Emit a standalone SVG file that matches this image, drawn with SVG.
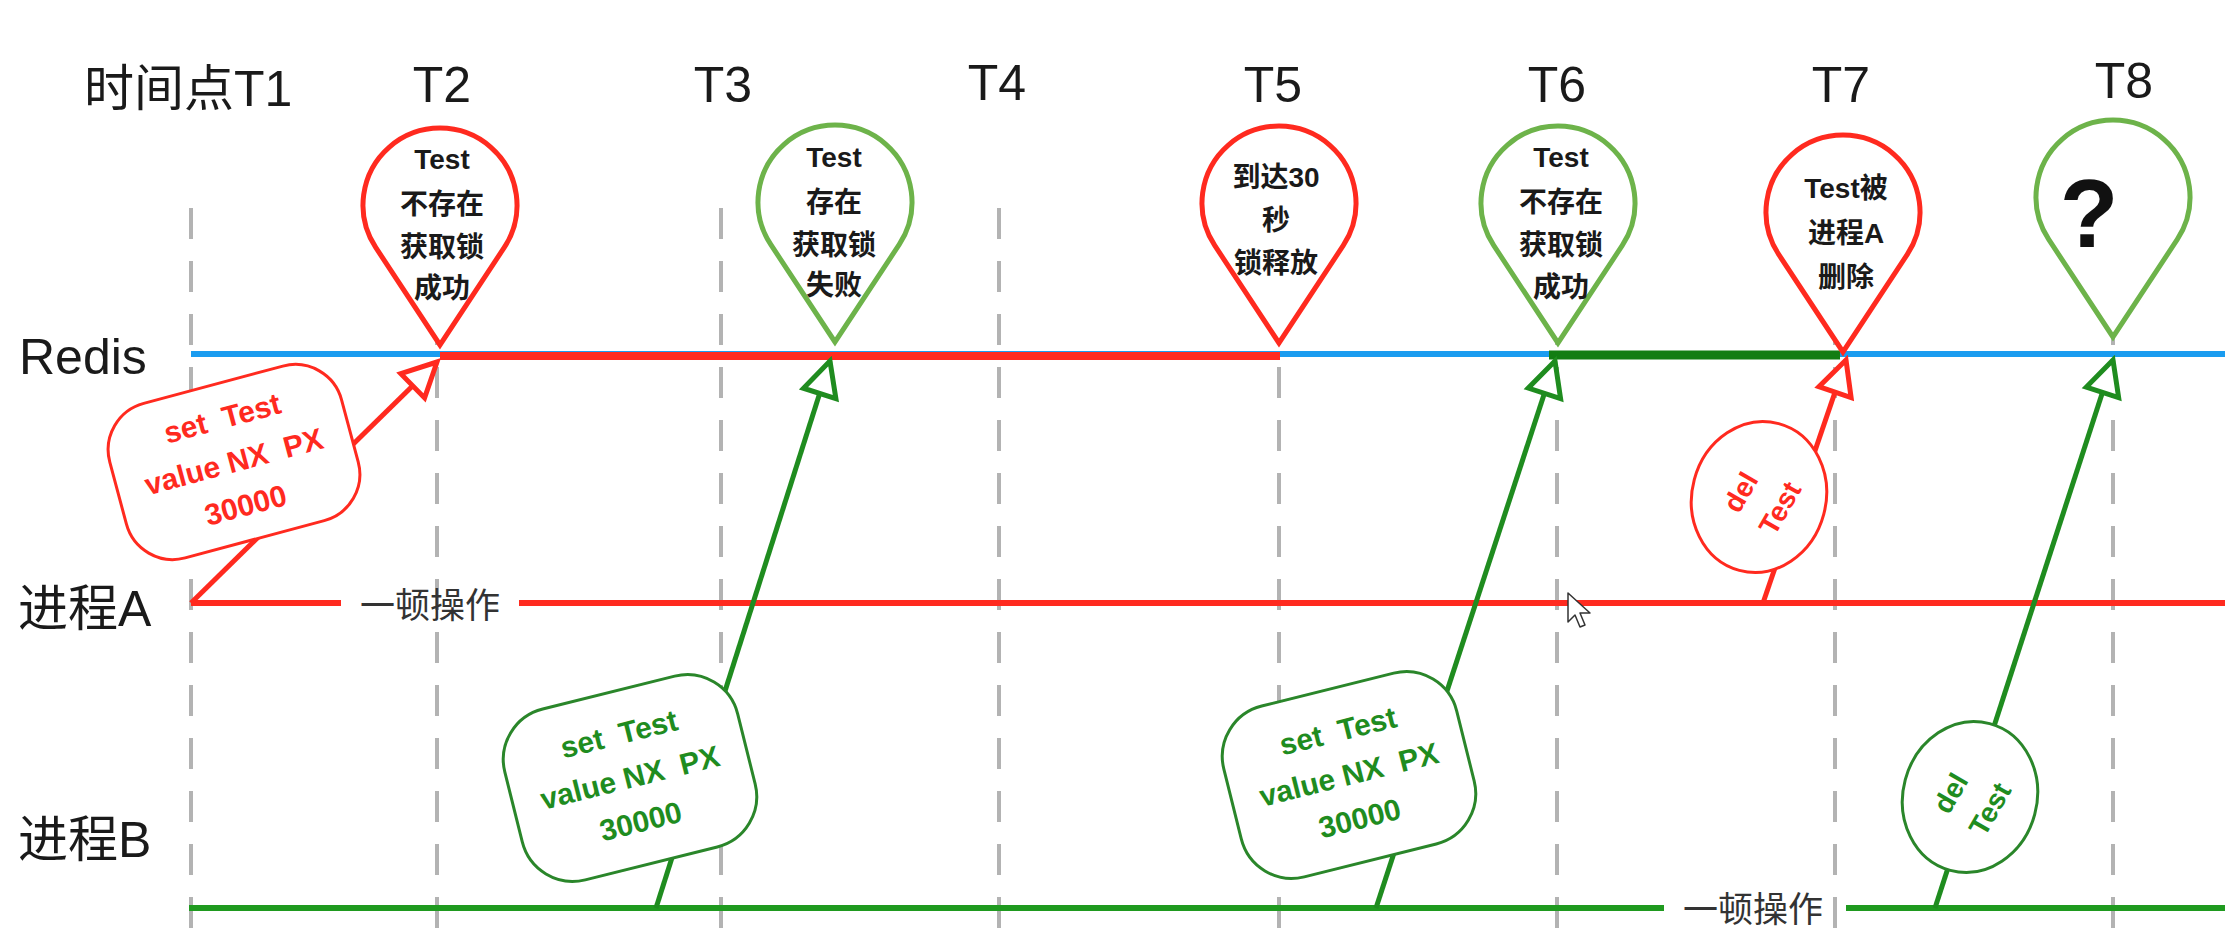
<svg xmlns="http://www.w3.org/2000/svg" width="2225" height="948" viewBox="0 0 2225 948">
<style>
.lbl{font-family:"Liberation Sans","Noto Sans CJK SC",sans-serif;font-size:50px;fill:#1a1a1a}
.tl{font-family:"Liberation Sans","Noto Sans CJK SC",sans-serif;font-size:50px;fill:#1a1a1a;text-anchor:middle}
.pt{font-family:"Liberation Sans","Noto Sans CJK SC",sans-serif;font-size:28px;font-weight:bold;fill:#1a1a1a;text-anchor:middle}
.op{font-family:"Noto Sans CJK SC",sans-serif;font-size:35px;fill:#333;text-anchor:middle}
.bt{font-family:"Liberation Sans","Noto Sans CJK SC",sans-serif;font-size:30px;font-weight:bold;text-anchor:middle}
.dt{font-family:"Liberation Sans",sans-serif;font-size:28px;font-weight:bold;text-anchor:middle}
.dash{stroke:#b3b3b3;stroke-width:4;stroke-dasharray:31 22;fill:none}
.pinR{fill:#fff;stroke:#ff2a1f;stroke-width:5;stroke-linejoin:miter}
.pinG{fill:#fff;stroke:#6db34a;stroke-width:5;stroke-linejoin:miter}
.arR{stroke:#ff2a1f;stroke-width:5;fill:none;marker-end:url(#ahR)}
.arG{stroke:#1f8c1f;stroke-width:5;fill:none;marker-end:url(#ahG)}
.bubR{fill:#fff;stroke:#ff2a1f;stroke-width:3}
.bubG{fill:#fff;stroke:#2a862a;stroke-width:3}
.red{fill:#ff2a1f}
.grn{fill:#1f8c1f}
</style>
<defs>
<path id="pin" d="M0,0 L-64.3,-97.6 A77,77 0 1 1 64.3,-97.6 Z"/>
<marker id="ahR" markerUnits="userSpaceOnUse" viewBox="-45 -25 50 50" markerWidth="50" markerHeight="50" refX="0" refY="0" orient="auto">
<path d="M0,0 L-34,-17 L-34,17 Z" fill="#fff" stroke="#ff2a1f" stroke-width="5"/>
</marker>
<marker id="ahG" markerUnits="userSpaceOnUse" viewBox="-45 -25 50 50" markerWidth="50" markerHeight="50" refX="0" refY="0" orient="auto">
<path d="M0,0 L-34,-17 L-34,17 Z" fill="#fff" stroke="#1f8c1f" stroke-width="5"/>
</marker>
</defs>
<rect width="2225" height="948" fill="#fff"/>

<g id="gridlines">
<line class="dash" x1="191" y1="208" x2="191" y2="932"/>
<line class="dash" x1="437" y1="208" x2="437" y2="932"/>
<line class="dash" x1="721" y1="208" x2="721" y2="932"/>
<line class="dash" x1="999" y1="208" x2="999" y2="932"/>
<line class="dash" x1="1279" y1="208" x2="1279" y2="932"/>
<line class="dash" x1="1557" y1="208" x2="1557" y2="932"/>
<line class="dash" x1="1835" y1="208" x2="1835" y2="932"/>
<line class="dash" x1="2113" y1="208" x2="2113" y2="932"/>
</g>

<g id="time-labels">
<text class="lbl" x="84" y="106">时间点T1</text>
<text class="tl" x="442" y="102">T2</text>
<text class="tl" x="723" y="102">T3</text>
<text class="tl" x="997" y="100">T4</text>
<text class="tl" x="1273" y="102">T5</text>
<text class="tl" x="1557" y="102">T6</text>
<text class="tl" x="1841" y="102">T7</text>
<text class="tl" x="2124" y="98">T8</text>
</g>

<g id="lane-redis">
<text class="lbl" x="19" y="374">Redis</text>
<line x1="191" y1="354" x2="2225" y2="354" stroke="#1a9cf0" stroke-width="6"/>
<line x1="440" y1="356" x2="1280" y2="356" stroke="#ff2a1f" stroke-width="8"/>
<line x1="1549" y1="355" x2="1840" y2="355" stroke="#137d13" stroke-width="9"/>
</g>

<g id="lane-a">
<text class="lbl" x="18" y="626">进程A</text>
<line x1="191" y1="603" x2="341" y2="603" stroke="#ff2a1f" stroke-width="6"/>
<line x1="519" y1="603" x2="2225" y2="603" stroke="#ff2a1f" stroke-width="6"/>
<text class="op" x="430" y="618">一顿操作</text>
</g>

<g id="lane-b">
<text class="lbl" x="18" y="857">进程B</text>
<line x1="189" y1="908" x2="1664" y2="908" stroke="#1f9a1f" stroke-width="6"/>
<line x1="1846" y1="908" x2="2225" y2="908" stroke="#1f9a1f" stroke-width="6"/>
<text class="op" x="1753" y="922">一顿操作</text>
</g>

<g id="connectors">
<line class="arR" x1="191" y1="603" x2="437" y2="362"/>
<line class="arG" x1="656" y1="908" x2="830" y2="361"/>
<line class="arG" x1="1376" y1="908" x2="1555" y2="361"/>
<line class="arR" x1="1763" y1="603" x2="1846" y2="360"/>
<line class="arG" x1="1935" y1="908" x2="2113" y2="360"/>
</g>

<g id="bubble-a-set">
<g transform="rotate(-15 234 462)">
<rect class="bubR" x="114" y="382" width="240" height="160" rx="48"/>
<text class="bt red" x="234" y="427" xml:space="preserve">set  Test</text>
<text class="bt red" x="234" y="472" xml:space="preserve">value NX  PX</text>
<text class="bt red" x="234" y="517">30000</text>
</g>
</g>

<g id="bubble-b-set1">
<g transform="rotate(-14 630 778)">
<rect class="bubG" x="510" y="690" width="240" height="176" rx="52"/>
<text class="bt grn" x="630" y="743" xml:space="preserve">set  Test</text>
<text class="bt grn" x="630" y="788" xml:space="preserve">value NX  PX</text>
<text class="bt grn" x="630" y="833">30000</text>
</g>
</g>

<g id="bubble-b-set2">
<g transform="rotate(-14 1349 775)">
<rect class="bubG" x="1229" y="687" width="240" height="176" rx="52"/>
<text class="bt grn" x="1349" y="740" xml:space="preserve">set  Test</text>
<text class="bt grn" x="1349" y="785" xml:space="preserve">value NX  PX</text>
<text class="bt grn" x="1349" y="830">30000</text>
</g>
</g>

<g id="bubble-a-del">
<ellipse class="bubR" cx="1759" cy="497" rx="67" ry="76" transform="rotate(15 1759 497)"/>
<g transform="rotate(-60 1760 500)">
<text class="dt red" x="1757" y="489">del</text>
<text class="dt red" x="1763" y="531">Test</text>
</g>
</g>

<g id="bubble-b-del">
<ellipse class="bubG" cx="1970" cy="797" rx="67" ry="76" transform="rotate(15 1970 797)"/>
<g transform="rotate(-60 1970 801)">
<text class="dt grn" x="1967" y="790">del</text>
<text class="dt grn" x="1973" y="832">Test</text>
</g>
</g>

<g id="pin-t2">
<use href="#pin" class="pinR" transform="translate(440 345)"/>
<text class="pt" x="442" y="169">Test</text>
<text class="pt" x="442" y="214">不存在</text>
<text class="pt" x="442" y="257">获取锁</text>
<text class="pt" x="442" y="298">成功</text>
</g>

<g id="pin-t3">
<use href="#pin" class="pinG" transform="translate(835 342)"/>
<text class="pt" x="834" y="167">Test</text>
<text class="pt" x="834" y="212">存在</text>
<text class="pt" x="834" y="255">获取锁</text>
<text class="pt" x="834" y="295">失败</text>
</g>

<g id="pin-t5">
<use href="#pin" class="pinR" transform="translate(1279 343)"/>
<text class="pt" x="1276" y="187">到达30</text>
<text class="pt" x="1276" y="230">秒</text>
<text class="pt" x="1276" y="273">锁释放</text>
</g>

<g id="pin-t6">
<use href="#pin" class="pinG" transform="translate(1558 343)"/>
<text class="pt" x="1561" y="167">Test</text>
<text class="pt" x="1561" y="212">不存在</text>
<text class="pt" x="1561" y="255">获取锁</text>
<text class="pt" x="1561" y="297">成功</text>
</g>

<g id="pin-t7">
<use href="#pin" class="pinR" transform="translate(1843 352)"/>
<text class="pt" x="1846" y="198">Test被</text>
<text class="pt" x="1846" y="243">进程A</text>
<text class="pt" x="1846" y="287">删除</text>
</g>

<g id="pin-t8">
<use href="#pin" class="pinG" transform="translate(2113 337)"/>
<text x="2089" y="247" font-family="Liberation Sans, sans-serif" font-size="96" font-weight="bold" fill="#111" text-anchor="middle">?</text>
</g>

<path d="M1568,593 L1568,622 L1575,615 L1580,627 L1585,625 L1580,613 L1590,613 Z" fill="#fff" stroke="#333" stroke-width="1.5" stroke-linejoin="round"/>
</svg>
